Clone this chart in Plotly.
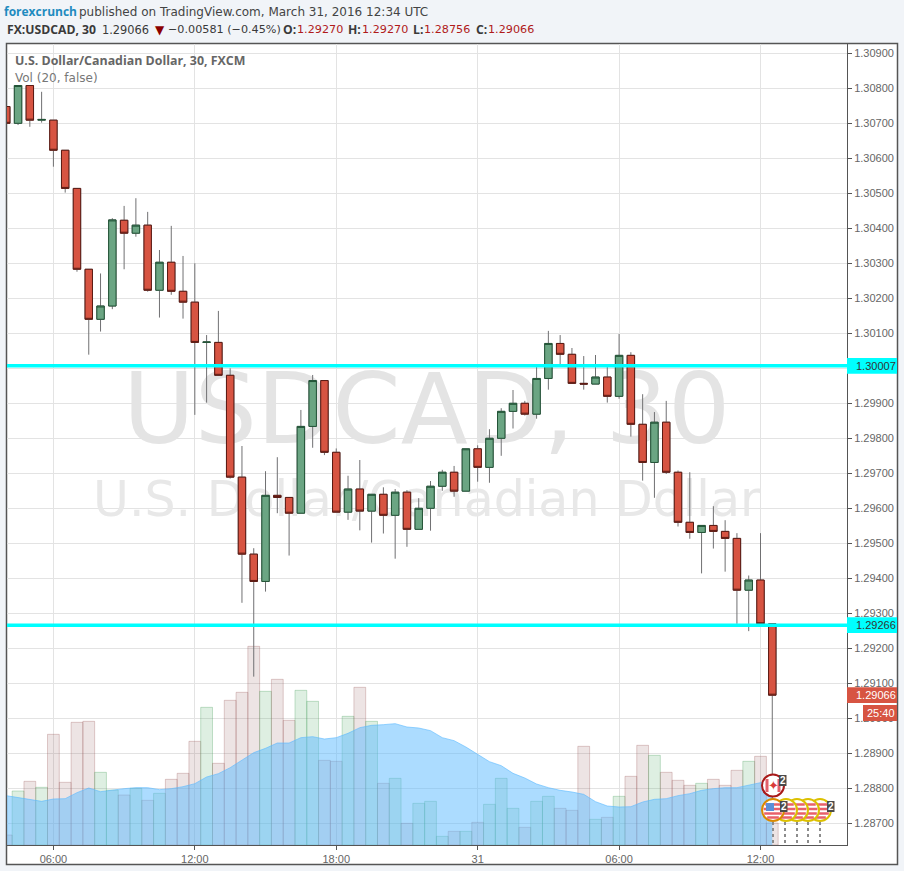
import math
import pandas as pd
import plotly.graph_objects as go

# ---------- data ----------
times = pd.date_range("2016-03-30 04:00", periods=66, freq="30min")
opens = [1.30748,1.30700,1.30808,1.30709,1.30709,1.30623,1.30514,1.30283,1.30140,1.30178,1.30423,1.30386,1.30409,1.30223,1.30303,1.30220,
         1.30189,1.30074,1.30074,1.29980,1.29689,1.29469,1.29391,1.29637,1.29631,1.29586,1.29834,1.29965,1.29760,1.29589,1.29655,1.29592,
         1.29640,1.29580,1.29646,1.29540,1.29600,1.29663,1.29703,1.29649,1.29770,1.29717,1.29800,1.29877,1.29900,1.29869,1.29971,1.30071,
         1.30040,1.29957,1.29955,1.29975,1.29920,1.30037,1.29840,1.29731,1.29846,1.29703,1.29560,1.29531,1.29551,1.29534,1.29514,1.29366,
         1.29395,1.29270]
closes = [1.30700,1.30808,1.30709,1.30711,1.30623,1.30514,1.30283,1.30140,1.30178,1.30424,1.30386,1.30409,1.30223,1.30303,1.30220,1.30189,
          1.30074,1.30075,1.29980,1.29689,1.29469,1.29391,1.29637,1.29631,1.29586,1.29834,1.29965,1.29760,1.29589,1.29655,1.29592,1.29640,
          1.29580,1.29646,1.29540,1.29600,1.29663,1.29703,1.29649,1.29770,1.29717,1.29800,1.29877,1.29900,1.29869,1.29971,1.30071,1.30040,
          1.29957,1.29955,1.29975,1.29920,1.30037,1.29840,1.29731,1.29846,1.29703,1.29560,1.29531,1.29551,1.29534,1.29514,1.29366,1.29395,
          1.29270,1.29066]
highs = [1.30748,1.30808,1.30808,1.30790,1.30709,1.30623,1.30514,1.30283,1.30271,1.30429,1.30464,1.30486,1.30447,1.30338,1.30407,1.30321,
         1.30300,1.30095,1.30164,1.30000,1.29778,1.29486,1.29706,1.29746,1.29631,1.29881,1.29981,1.29965,1.29771,1.29693,1.29738,1.29640,
         1.29660,1.29655,1.29652,1.29629,1.29678,1.29710,1.29721,1.29770,1.29780,1.29826,1.29886,1.29938,1.29907,1.30005,1.30107,1.30095,
         1.30058,1.30035,1.30038,1.30005,1.30098,1.30046,1.29926,1.29875,1.29907,1.29708,1.29703,1.29551,1.29606,1.29566,1.29529,1.29408,
         1.29529,1.29270]
lows = [1.30700,1.30695,1.30690,1.30702,1.30576,1.30502,1.30276,1.30039,1.30105,1.30169,1.30283,1.30376,1.30219,1.30145,1.30210,1.30142,
        1.29867,1.29902,1.29980,1.29685,1.29330,1.29119,1.29362,1.29586,1.29465,1.29586,1.29773,1.29752,1.29589,1.29567,1.29537,1.29502,
        1.29528,1.29456,1.29490,1.29540,1.29536,1.29650,1.29633,1.29649,1.29676,1.29673,1.29750,1.29828,1.29865,1.29856,1.29939,1.30011,
        1.29957,1.29939,1.29955,1.29902,1.29913,1.29805,1.29679,1.29630,1.29698,1.29548,1.29513,1.29414,1.29485,1.29419,1.29270,1.29249,
        1.29270,1.28756]
volumes = [30,162,191,173,332,188,368,371,218,165,150,170,134,155,197,215,311,413,245,434,458,596,461,497,374,464,431,254,251,386,473,371,
           185,200,65,125,131,26,41,41,68,122,200,110,53,131,146,110,104,296,77,83,146,206,299,269,218,194,179,185,197,179,224,251,266,66]
vol_ma = [148,142,135,131,138,139,157,171,160,165,169,172,172,166,169,175,184,204,214,232,254,277,290,306,306,322,325,318,322,335,352,359,
          361,364,354,351,343,322,313,294,272,250,238,215,201,183,172,164,159,152,130,117,114,115,129,137,139,148,154,164,169,172,172,180,187,192]
tick_times = ["2016-03-30 06:00","2016-03-30 12:00","2016-03-30 18:00","2016-03-31 00:00","2016-03-31 06:00","2016-03-31 12:00"]
tick_labels = ["06:00","12:00","18:00","31","06:00","12:00"]
price_ticks = [1.287 + i*0.001 for i in range(23)]
level_prices = [1.30007, 1.29266]
last_price = 1.29066

# ---------- styling ----------
W, H = 904, 871
L, R, T, B = 7, 847, 44, 845
def px(x): return (x - L) / (R - L)
def py(y): return (B - y) / (B - T)
UP, DOWN = "#6ba583", "#d75442"
UPB, DOWNB = "#225437", "#5b1a13"
WICK = "#707072"
AXIS = "#555555"
TXT = "#666666"
FONT = "Liberation Sans"
HFONT = "DejaVu Sans"
BFONT = "Open Sans"

fig = go.Figure()
is_up = [c >= o for o, c in zip(opens, closes)]

# watermark (behind everything, carried on the volume axis)
fig.add_trace(go.Scatter(x=["2016-03-30 21:50"], y=[1281], mode="text", text=["USDCAD, 30"],
                         textfont=dict(family=HFONT, size=98, color="#e4e4e4"), textposition="middle center",
                         showlegend=False, hoverinfo="skip", cliponaxis=False))
fig.add_trace(go.Scatter(x=["2016-03-30 21:50"], y=[1023], mode="text", text=["U.S. Dollar/Canadian Dollar"],
                         textfont=dict(family=HFONT, size=49, color="#e8e8e8"), textposition="middle center",
                         showlegend=False, hoverinfo="skip", cliponaxis=False))

# volume
fig.add_trace(go.Bar(x=times, y=volumes, width=1800000, showlegend=False,
                     marker=dict(color=["rgba(90,175,110,0.2)" if u else "rgba(140,90,90,0.16)" for u in is_up],
                                 line=dict(color=["rgba(70,160,90,0.3)" if u else "rgba(150,80,80,0.28)" for u in is_up], width=1))))
fig.add_trace(go.Scatter(x=times, y=vol_ma, mode="lines", fill="tozeroy", fillcolor="rgba(90,185,255,0.5)",
                         line=dict(color="rgba(90,185,255,0.6)", width=1), showlegend=False))

# candle wicks, then bodies with their own outline
fig.add_trace(go.Candlestick(x=times, open=opens, high=highs, low=lows, close=closes, yaxis="y2", whiskerwidth=0, showlegend=False,
                             increasing=dict(line=dict(color=WICK, width=1), fillcolor="rgba(0,0,0,0)"),
                             decreasing=dict(line=dict(color=WICK, width=1), fillcolor="rgba(0,0,0,0)")))
fig.add_trace(go.Candlestick(x=times, open=opens, close=closes, yaxis="y2", whiskerwidth=0, showlegend=False,
                             high=[max(o, c) for o, c in zip(opens, closes)],
                             low=[min(o, c) for o, c in zip(opens, closes)],
                             increasing=dict(line=dict(color=UPB, width=1), fillcolor=UP),
                             decreasing=dict(line=dict(color=DOWNB, width=1), fillcolor=DOWN)))

shapes, notes = [], []
def rect(x0, y0, x1, y1, fill, line=None, width=1, layer="above"):
    shapes.append(dict(type="rect", xref="paper", yref="paper", x0=px(x0), x1=px(x1), y0=py(y0), y1=py(y1),
                       fillcolor=fill, line=dict(color=line or fill, width=width if line else 0), layer=layer))
def note(x, y, text, color=TXT, size=11, family=FONT, anchor="left"):
    notes.append(dict(xref="paper", yref="paper", x=px(x), y=py(y), xanchor=anchor, yanchor="middle", showarrow=False,
                      text=text, align="left", borderpad=0, borderwidth=0, font=dict(family=family, size=size, color=color)))
def circle(cx, cy, r, fill, line=None, width=0):
    shapes.append(dict(type="circle", xref="paper", yref="paper", x0=px(cx-r), x1=px(cx+r), y0=py(cy+r), y1=py(cy-r),
                       fillcolor=fill, line=dict(color=line or fill, width=width)))
def seg(x0, y0, x1, y1, color, width=1, dash="solid"):
    shapes.append(dict(type="line", xref="paper", yref="paper", x0=px(x0), x1=px(x1), y0=py(y0), y1=py(y1),
                       line=dict(color=color, width=width, dash=dash)))
def badge(x, y):
    rect(x, y, x+7.5, y+11, "#4a4a4a")
    note(x+3.8, y+5.6, "<b>2</b>", "#ffffff", 10, FONT, "center")

# chart frame
rect(6.5, 43.5, 897.5, 864.5, "#ffffff", AXIS, 1.5, "below")

# key levels
for p in level_prices:
    shapes.append(dict(type="line", xref="paper", yref="y2", x0=0, x1=1, y0=p, y1=p,
                       line=dict(color="#00ffff", width=3.5), layer="above"))
    shapes.append(dict(type="rect", xref="paper", yref="y2", x0=px(847), x1=px(897), y0=p-0.000225, y1=p+0.000225,
                       fillcolor="#00ffff", line=dict(width=0), layer="above"))
    notes.append(dict(xref="paper", yref="y2", x=px(855), y=p, xanchor="left", yanchor="middle", showarrow=False, borderpad=0,
                      text=f"{p:.5f}", font=dict(family=FONT, size=11, color="#333333")))
shapes.append(dict(type="rect", xref="paper", yref="y2", x0=px(847), x1=px(897), y0=last_price-0.000225, y1=last_price+0.000225,
                   fillcolor=DOWN, line=dict(width=0), layer="above"))
notes.append(dict(xref="paper", yref="y2", x=px(855), y=last_price, xanchor="left", yanchor="middle", showarrow=False, borderpad=0,
                  text=f"{last_price:.5f}", font=dict(family=FONT, size=11, color="#ffffff")))
rect(863, 705, 897, 721, DOWN)
note(867, 713, "25:40", "#ffffff", 11)

# event markers
for x in (773, 785, 797, 808, 820):
    seg(x, 822, x, 844, "#8c8c8c", 2, "dot")
def us_flag(cx, cy, r, ring):
    circle(cx, cy, r, "#ffffff", ring, 2)
    for dy in (-5.5, -1, 3.5, 7.5):
        half = math.sqrt(max((r-1.5)**2 - dy**2, 0))
        seg(cx-half, cy+dy, cx+half, cy+dy, "#e8606a", 2.5)
for cx in (820, 808, 797, 786):
    us_flag(cx, 810, 11, "#dcc000")
us_flag(773, 810, 11, "#d98a00")
rect(766, 803, 774, 811, "#5b8fd8")
badge(780, 801)
badge(827, 801)
circle(773, 785.5, 11, "#ffffff", "#a81a1a", 2)
seg(767, 779, 767, 792, "#e2606a", 3)
seg(779, 779, 779, 792, "#e2606a", 3)
note(773, 785.5, "\u2726", "#d93a3a", 13, "DejaVu Sans", "center")
badge(779, 775)

# header & legend texts
note(4, 11.5, "<b>forexcrunch</b>", "#1f8bbf", 12, BFONT)
note(79, 11.5, "published on TradingView.com, March 31, 2016 12:34 UTC", "#444444", 12, HFONT)
RED = "#b01a1a"
DARK = "#3a3a3a"
note(7, 29.5, "<b>FX:USDCAD, 30</b>", DARK, 12.2, BFONT)
note(102, 29.5, "1.29066", DARK, 11.4, HFONT)
note(155, 29.5, "\u25bc", "#8b0000", 12, HFONT)
note(168, 29.5, "\u22120.00581 (\u22120.45%)", DARK, 11.2, HFONT)
for lx, vx, lab, val in [(283, 297, "O:", "1.29270"), (348, 362, "H:", "1.29270"), (413, 424, "L:", "1.28756"), (476, 488, "C:", "1.29066")]:
    note(lx, 29.5, f"<b>{lab}</b>", DARK, 12.2, BFONT)
    note(vx, 29.5, val, RED, 11.2, HFONT)
note(15, 60.5, "<b>U.S. Dollar/Canadian Dollar, 30, FXCM</b>", "#666666", 12.4, BFONT)
note(15, 77.5, "Vol (20, false)", "#777777", 12, HFONT)

fig.update_layout(
    width=W, height=H, autosize=False,
    margin=dict(l=L, r=W-R, t=T, b=H-B, pad=0),
    paper_bgcolor="#f1f4f8", plot_bgcolor="#ffffff",
    boxmode="overlay", boxgap=0.1, boxgroupgap=0.3, barmode="overlay",
    showlegend=False, shapes=shapes, annotations=notes, hovermode=False,
    xaxis=dict(type="date", range=["2016-03-30 04:01:53", "2016-03-31 15:40:12"], rangeslider=dict(visible=False),
               tickmode="array", tickvals=tick_times, ticktext=tick_labels, showgrid=True, gridcolor="#e3e3e3", gridwidth=1,
               showline=True, linecolor=AXIS, linewidth=1, ticks="outside", ticklen=4, tickcolor=AXIS,
               tickfont=dict(family=FONT, size=11, color=TXT), zeroline=False),
    yaxis=dict(range=[0, 2403], visible=False, showgrid=False, zeroline=False),
    yaxis2=dict(overlaying="y", side="right", range=[1.28638, 1.309266], tickmode="array", tickvals=price_ticks,
                ticktext=[f"{v:.5f}" for v in price_ticks], showgrid=True, gridcolor="#e3e3e3", gridwidth=1, zeroline=False,
                showline=True, linecolor=AXIS, linewidth=1, ticks="outside", ticklen=4, tickcolor=AXIS,
                tickfont=dict(family=FONT, size=11, color=TXT)),
)
fig.write_html("out.html", config={"displayModeBar": False},
               post_script="document.body.style.margin='0';document.body.style.background='#f1f4f8';document.documentElement.style.overflow='hidden';")
